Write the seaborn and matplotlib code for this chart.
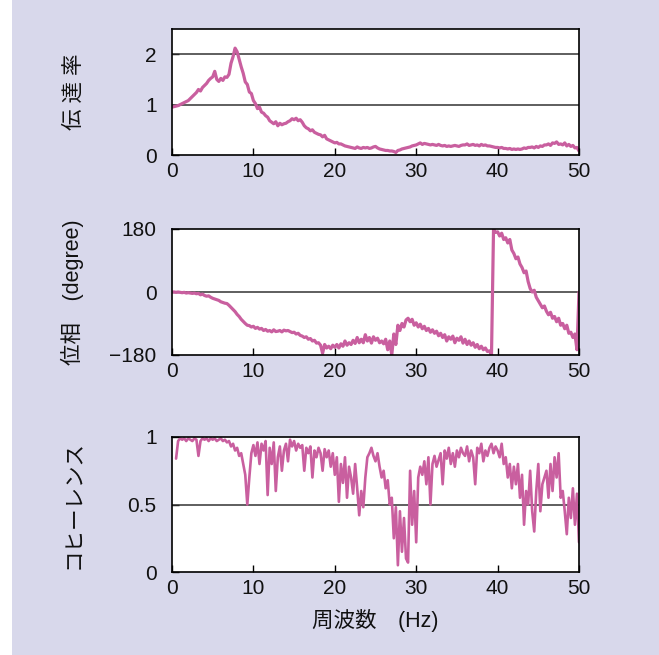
import numpy as np
import matplotlib
matplotlib.use("Agg")
import matplotlib.pyplot as plt
import seaborn as sns
from matplotlib.patches import Rectangle

# 周波数 (Hz)
freq = np.arange(0, 50.001, 0.25)
freq_coh = np.arange(0.5, 50.001, 0.25)

# 伝達率
trans = [
    0.95, 0.96, 0.97, 0.98,
    1.00, 1.02, 1.04, 1.06,
    1.08, 1.12, 1.16, 1.20,
    1.24, 1.30, 1.27, 1.34,
    1.38, 1.42, 1.48, 1.52,
    1.55, 1.66, 1.50, 1.46,
    1.52, 1.48, 1.55, 1.54,
    1.60, 1.82, 1.95, 2.12,
    2.05, 1.90, 1.75, 1.62,
    1.45, 1.40, 1.25, 1.22,
    1.08, 1.02, 0.92, 0.95,
    0.85, 0.83, 0.78, 0.75,
    0.68, 0.65, 0.62, 0.66,
    0.58, 0.63, 0.60, 0.62,
    0.63, 0.66, 0.68, 0.72,
    0.70, 0.73, 0.68, 0.70,
    0.65, 0.58, 0.54, 0.52,
    0.48, 0.50, 0.45, 0.43,
    0.41, 0.40, 0.36, 0.39,
    0.32, 0.30, 0.28, 0.26,
    0.24, 0.25, 0.22, 0.22,
    0.20, 0.18, 0.17, 0.16,
    0.15, 0.14, 0.13, 0.16,
    0.14, 0.13, 0.15, 0.14,
    0.15, 0.13, 0.14, 0.16,
    0.17, 0.14, 0.12, 0.11,
    0.10, 0.09, 0.09, 0.08,
    0.08, 0.07, 0.05, 0.09,
    0.10, 0.12, 0.13, 0.14,
    0.15, 0.16, 0.18, 0.19,
    0.20, 0.22, 0.24, 0.21,
    0.23, 0.22, 0.21, 0.20,
    0.21, 0.20, 0.19, 0.21,
    0.19, 0.18, 0.19, 0.17,
    0.18, 0.17, 0.18, 0.19,
    0.18, 0.17, 0.19, 0.20,
    0.20, 0.22, 0.19, 0.20,
    0.21, 0.19, 0.20, 0.18,
    0.21, 0.19, 0.20, 0.18,
    0.18, 0.17, 0.16, 0.15,
    0.15, 0.14, 0.15, 0.13,
    0.13, 0.12, 0.13, 0.11,
    0.12, 0.11, 0.12, 0.11,
    0.12, 0.14, 0.13, 0.15,
    0.15, 0.16, 0.14, 0.17,
    0.15, 0.18, 0.17, 0.20,
    0.20, 0.22, 0.19, 0.24,
    0.23, 0.26, 0.21, 0.22,
    0.20, 0.24, 0.18, 0.21,
    0.17, 0.19, 0.14, 0.15,
    0.08,
]

# 位相 (degree)
phase = [
    0, 0, -1, 0,
    -1, -2, -1, -3,
    -2, -3, -4, -3,
    -5, -4, -8, -6,
    -10, -12, -11, -15,
    -18, -20, -22, -24,
    -28, -30, -32, -33,
    -38, -44, -50, -56,
    -64, -70, -78, -84,
    -90, -95, -96, -100,
    -98, -104, -101, -106,
    -104, -110, -107, -112,
    -110, -114, -108, -113,
    -112, -110, -114, -109,
    -111, -110, -113, -116,
    -115, -120, -118, -124,
    -126, -130, -128, -135,
    -133, -140, -138, -146,
    -145, -152, -175, -150,
    -160, -155, -162, -152,
    -158, -150, -160, -148,
    -155, -140, -152, -145,
    -150, -138, -147, -130,
    -145, -135, -145, -122,
    -140, -130, -146, -128,
    -138, -132, -145, -140,
    -148, -135, -165, -140,
    -180, -120, -150, -95,
    -110, -90, -100, -80,
    -75, -85, -78, -95,
    -88, -100, -92, -105,
    -98, -110, -104, -115,
    -108, -118, -112, -125,
    -118, -130, -122, -140,
    -128, -135, -126, -145,
    -132, -138, -128, -146,
    -135, -150, -140, -152,
    -145, -158, -150, -162,
    -155, -165, -160, -170,
    -168, -180, 180, 170,
    172, 160, 168, 150,
    155, 140, 150, 120,
    110, 95, 100, 80,
    70, 55, 60, 30,
    10, 0, 5, -15,
    -25, -35, -45, -40,
    -55, -65, -58, -75,
    -70, -85, -75, -95,
    -90, -105, -95, -118,
    -115, -130, -120, -165,
    0,
]

# コヒーレンス
coherence = [
    0.84, 0.97,
    0.99, 0.98, 0.99, 0.97,
    0.99, 0.98, 0.97, 0.99,
    0.98, 0.86, 0.97, 0.99,
    0.98, 0.99, 0.97, 0.99,
    0.98, 0.99, 0.97, 0.98,
    0.99, 0.97, 0.98, 0.96,
    0.97, 0.93, 0.95, 0.90,
    0.92, 0.86, 0.88, 0.80,
    0.72, 0.50, 0.70, 0.88,
    0.94, 0.86, 0.96, 0.80,
    0.95, 0.90, 0.97, 0.57,
    0.92, 0.80, 0.96, 0.60,
    0.85, 0.93, 0.75, 0.90,
    0.95, 0.82, 0.98, 0.93,
    0.97, 0.90, 0.95, 0.92,
    0.94, 0.75, 0.92, 0.88,
    0.93, 0.70, 0.90, 0.85,
    0.92, 0.88, 0.75, 0.91,
    0.85, 0.90, 0.78, 0.88,
    0.72, 0.85, 0.52, 0.80,
    0.66, 0.85, 0.55, 0.78,
    0.70, 0.58, 0.80, 0.62,
    0.42, 0.60, 0.48, 0.70,
    0.85, 0.88, 0.92, 0.86,
    0.82, 0.88, 0.78, 0.70,
    0.75, 0.62, 0.68, 0.50,
    0.55, 0.25, 0.48, 0.05,
    0.45, 0.15, 0.40, 0.10,
    0.07, 0.75, 0.35, 0.60,
    0.22, 0.70, 0.78, 0.72,
    0.82, 0.65, 0.85, 0.50,
    0.80, 0.86, 0.78, 0.83,
    0.88, 0.65, 0.90, 0.84,
    0.92, 0.80, 0.88, 0.78,
    0.90, 0.85, 0.92, 0.88,
    0.86, 0.93, 0.82, 0.90,
    0.85, 0.65, 0.92, 0.88,
    0.95, 0.82, 0.90, 0.86,
    0.92, 0.95, 0.88, 0.93,
    0.90, 0.85, 0.95, 0.80,
    0.85, 0.70, 0.80, 0.62,
    0.78, 0.65, 0.80, 0.55,
    0.72, 0.35, 0.60, 0.50,
    0.75, 0.45, 0.30, 0.60,
    0.80, 0.45, 0.65, 0.70,
    0.75, 0.55, 0.80, 0.60,
    0.85, 0.70, 0.88, 0.55,
    0.60, 0.45, 0.28, 0.55,
    0.40, 0.62, 0.35, 0.58,
    0.22,
]

xticks = [0, 10, 20, 30, 40, 50]
line_color = "#c95f9f"
bg_color = "#d8d8eb"

sns.set_theme(style="white")
plt.rcParams['font.family'] = ['Liberation Sans', 'Noto Sans CJK JP']
plt.rcParams['axes.unicode_minus'] = True

W, H = 659, 655
fig = plt.figure(figsize=(W / 100, H / 100), dpi=100)
fig.patch.set_facecolor("white")
fig.patches.append(Rectangle((12 / W, 0), 1 - 12 / W, 1, transform=fig.transFigure,
                             facecolor=bg_color, edgecolor="none", zorder=-10))

def make_ax(top_px, bottom_px):
    return fig.add_axes([172 / W, 1 - bottom_px / H, 407 / W, (bottom_px - top_px) / H])

ax1 = make_ax(29, 155)
ax2 = make_ax(229, 355)
ax3 = make_ax(437, 572)

sns.lineplot(x=freq, y=trans, ax=ax1, color=line_color, linewidth=2.3)
sns.lineplot(x=freq, y=phase, ax=ax2, color=line_color, linewidth=2.3)
sns.lineplot(x=freq_coh, y=coherence, ax=ax3, color=line_color, linewidth=1.9)

settings = [
    (ax1, (0, 2.5), [0, 1, 2], ["0", "1", "2"], [1, 2], "伝 達 率"),
    (ax2, (-180, 180), [-180, 0, 180], ["\u2212180", "0", "180"], [0], "位相　(degree)"),
    (ax3, (0, 1), [0, 0.5, 1], ["0", "0.5", "1"], [0.5], "コヒーレンス"),
]

for ax, ylim, yticks, ylabels, grid, label in settings:
    ax.set_facecolor("white")
    ax.set_xlim(0, 50)
    ax.set_ylim(*ylim)
    ax.set_xticks(xticks)
    ax.set_xticklabels([str(t) for t in xticks], fontsize=15)
    ax.set_yticks(yticks)
    ax.set_yticklabels(ylabels, fontsize=15)
    for g in grid:
        ax.axhline(g, color="#333333", linewidth=1.1, zorder=1)
    for s in ax.spines.values():
        s.set_visible(True)
        s.set_color("black")
        s.set_linewidth(1.2)
    ax.tick_params(axis="x", direction="in", length=5, width=1, pad=5, colors="black",
                   bottom=True, labelcolor="#111111")
    ax.tick_params(axis="y", direction="in", length=5, width=1, pad=11, colors="black",
                   left=True, labelcolor="#111111")
    ax.set_xlabel("")
    ax.set_ylabel(label, fontsize=15.5, color="#111111", labelpad=0)
    ax.yaxis.set_label_coords(-0.215, 0.5)

ax3.set_xlabel("周波数　(Hz)", fontsize=15.5, color="#111111", labelpad=8)

fig.savefig("out.png", dpi=100, facecolor=fig.get_facecolor())
